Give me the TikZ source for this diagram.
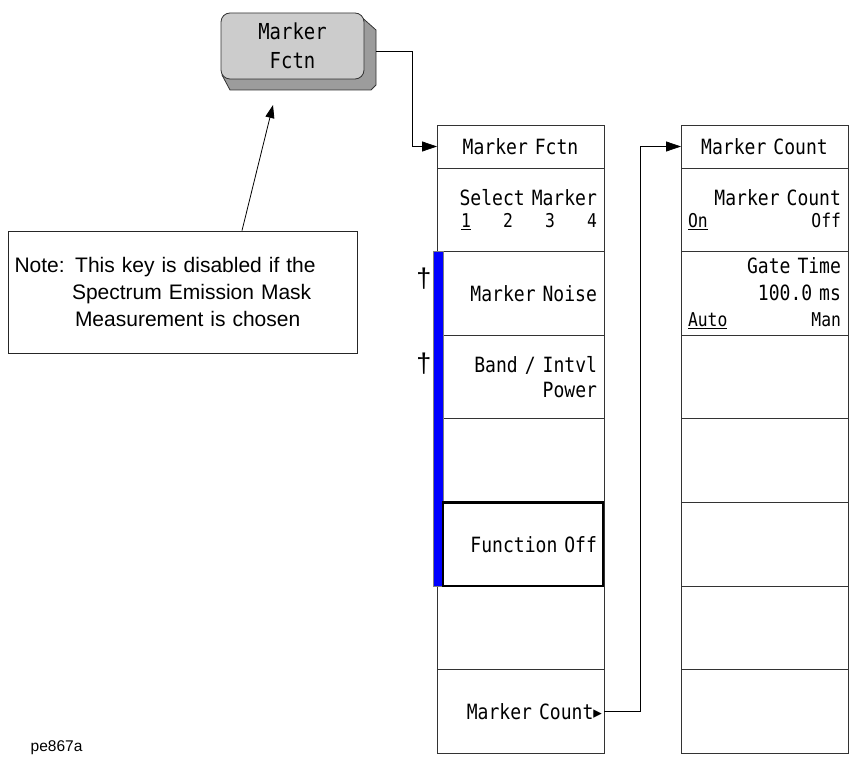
\documentclass[tikz,border=0pt]{standalone}
\usepackage{fontspec}
\setmainfont{Liberation Sans}
\newfontfamily\keyfont[FakeStretch=0.86]{DejaVu Sans Mono}
\newfontfamily\symfont{DejaVu Sans}
\usetikzlibrary{arrows.meta,positioning}

\begin{document}
\begin{tikzpicture}[x=1pt,y=-1pt,>={Triangle[length=15pt,width=10pt]},line width=0.8pt,
row/.style={draw=black!80,minimum width=167pt,minimum height=83.6pt,text width=153pt,inner xsep=7pt,inner ysep=0pt,outer sep=0pt,align=right,font=\keyfont\fontsize{21}{25}\selectfont},
hdr/.style={row,minimum height=43pt,align=center},
fkey/.style={draw=black!80,fill=gray!40,rounded corners=9pt,minimum width=143pt,minimum height=66pt,inner sep=0pt,align=center,font=\keyfont\fontsize{22}{29}\selectfont},
notebox/.style={draw=black!85,minimum width=349pt,minimum height=122pt,text width=336pt,inner xsep=6.5pt,align=left,font=\fontsize{21}{27}\selectfont},
dagger/.style={font=\fontsize{27}{27}\selectfont,inner sep=0pt}]
\useasboundingbox (0,0) rectangle (856,759);
% front panel key
\filldraw[fill=gray!78,draw=black!80] (358,14) -- (376,30) -- (376,85) -- (371,90) -- (230,90) -- (222,75) -- cycle;
\node[fkey] (mf) at (292.5,46) {Marker\\Fctn};
% first menu
\node[hdr,anchor=north west] (mfh) at (437,125) {Marker Fctn};
\node[row,below=0pt of mfh,font=\keyfont\fontsize{21}{22}\selectfont] (sel) {Select Marker\\{\fontsize{19}{22}\selectfont\hspace*{17pt}\underline{1}\hfill 2\hfill 3\hfill 4}};
\node[row,below=0pt of sel] (mn) {Marker Noise};
\node[row,below=0pt of mn] (bip) {Band / Intvl\\Power};
\node[row,below=0pt of bip] (e1) {};
\node[row,below=0pt of e1] (fo) {Function Off};
\node[row,below=0pt of fo] (e2) {};
\node[row,below=0pt of e2,inner xsep=2pt,text width=163pt] (mc) {Marker Count\raisebox{1pt}{\symfont\fontsize{17}{17}\selectfont▸}};
\draw[draw=gray,fill=blue] ([xshift=-4pt]mn.north west) rectangle ([xshift=6pt]fo.south west);
\draw[line width=2.2pt] ([xshift=6pt]fo.north west) rectangle ([xshift=-1pt]fo.south east);
\node[dagger] (d1) at (424,279) {†};
\node[dagger] (d2) at (424,364) {†};
% second menu
\node[hdr,anchor=north west] (mch) at (681,125) {Marker Count};
\node[row,below=0pt of mch,font=\keyfont\fontsize{21}{22}\selectfont] (mcs) {Marker Count\\{\fontsize{19}{22}\selectfont\underline{On}\hfill Off}};
\node[row,below=0pt of mcs,font=\keyfont\fontsize{21}{26.5}\selectfont] (gt) {Gate Time\\100.0 ms\\{\fontsize{19}{26}\selectfont\underline{Auto}\hfill Man}};
\node[row,below=0pt of gt] (r1) {};
\node[row,below=0pt of r1] (r2) {};
\node[row,below=0pt of r2] (r3) {};
\node[row,below=0pt of r3] (r4) {};
\node[row,below=0pt of r4] (r5) {};
% connectors
\coordinate (kout) at (376,51);
\draw[->] (kout) -| ([xshift=-25pt]mfh.west) -- (mfh.west);
\draw[->] (mc.east) -| ([xshift=-41pt]mch.west) -- (mch.west);
% note
\node[notebox] (note) at (182.5,292) {Note: This key is disabled if the\\\hspace*{57.5pt}Spectrum Emission Mask\\\hspace*{60.5pt}Measurement is chosen};
\coordinate (ktip) at (273,105);
\draw[->,>={Triangle[length=13pt,width=9pt]}] ([xshift=59.5pt]note.north) -- (ktip);
\node[font=\fontsize{15.5}{18}\selectfont,anchor=west] (id) at (27,748) {pe867a};
\end{tikzpicture}
\end{document}
